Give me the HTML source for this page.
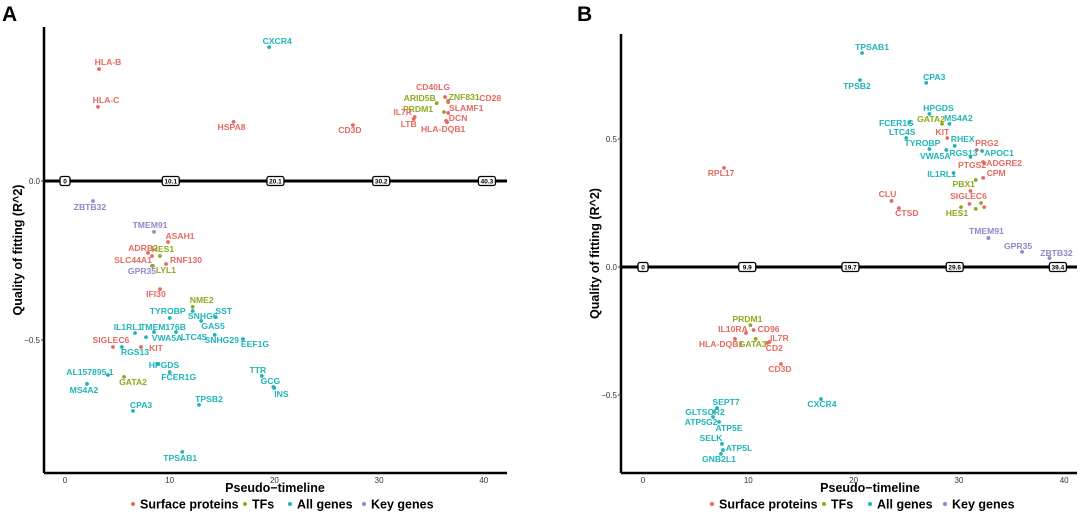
<!DOCTYPE html>
<html><head><meta charset="utf-8"><style>
html,body{margin:0;padding:0;background:#fff;}
svg{display:block;font-family:"Liberation Sans",sans-serif;}
</style></head><body>
<svg id="chart" width="1080" height="513" viewBox="0 0 1080 513"></svg>
<script>
// Panel A data
const aGenes=["CXCR4","HLA-B","HLA-C","HSPA8","CD3D","CD40LG","ZNF831","ARID5B","CD28","PRDM1","SLAMF1","IL7R","LTB","DCN","HLA-DQB1","ZBTB32","TMEM91","ASAH1","ADRB2","HES1","SLC44A1","RNF130","GPR35","LYL1","IFI30","NME2","TYROBP","SNHG6","SST","GAS5","IL1RL1","TMEM176B","VWA5A","LTC4S","SNHG29","EEF1G","SIGLEC6","RGS13","KIT","HPGDS","FCER1G","TTR","GCG","INS","AL157895.1","GATA2","MS4A2","CPA3","TPSB2","TPSAB1"];
const aX=[19.5,3.25,3.15,16.1,27.5,36.3,36.6,35.5,36.6,36.2,36.6,33.4,33.3,36.4,36.5,2.67,8.5,9.84,7.93,9.07,8.31,9.65,8.31,8.4,9.07,12.2,10.0,12.2,14.4,13.0,6.69,8.5,7.74,10.6,14.3,17.0,4.58,5.44,7.26,8.88,10.0,18.8,19.9,20.0,4.1,5.64,2.1,6.5,12.8,11.2];
const aY=[0.421,0.352,0.233,0.186,0.176,0.264,0.252,0.245,0.248,0.217,0.214,0.201,0.195,0.189,0.185,-0.063,-0.160,-0.192,-0.226,-0.236,-0.236,-0.261,-0.267,-0.267,-0.340,-0.396,-0.431,-0.409,-0.428,-0.440,-0.478,-0.475,-0.491,-0.475,-0.484,-0.497,-0.522,-0.522,-0.522,-0.575,-0.601,-0.613,-0.648,-0.651,-0.610,-0.616,-0.638,-0.723,-0.704,-0.852];
const aCat=["a","s","s","s","s","s","t","t","s","t","s","s","s","s","s","k","k","s","s","t","s","s","k","t","s","t","a","a","a","a","a","a","a","a","a","a","s","a","s","a","a","a","a","a","a","t","a","a","a","a"];
const aTicks=["0","10.1","20.1","30.2","40.3"];
const aTickVals=[0,10.1,20.1,30.2,40.3];
const aYTicks=[0,-0.5];
// Panel B data
const bGenes=["TPSAB1","TPSB2","CPA3","HPGDS","GATA2","MS4A2","FCER1G","LTC4S","KIT","TYROBP","RHEX","PRG2","APOC1","VWA5A","RGS13","PTGS2","ADGRE2","IL1RL1","CPM","PBX1","SIGLEC6","HES1","CLU","CTSD","RPL17","TMEM91","GPR35","ZBTB32","","","","","PRDM1","IL10RA","CD96","HLA-DQB1","GATA3","IL7R","CD2","CD3D","CXCR4","SEPT7","GLTSCR2","ATP5G2","ATP5E","SELK","ATP5L","GNB2L1"];
const bX=[20.8,20.6,26.9,27.2,28.4,29.1,25.3,25.0,28.9,27.2,29.6,31.7,32.2,28.8,31.1,32.3,32.4,29.5,32.3,31.6,31.1,30.2,23.6,24.3,7.7,32.8,36.0,38.6,31.0,32.1,31.6,32.4,10.2,9.78,10.5,8.74,10.7,12.0,11.8,13.1,16.9,7.03,6.74,6.65,7.22,7.5,7.6,7.4];
const bY=[0.836,0.730,0.719,0.598,0.559,0.559,0.566,0.504,0.504,0.461,0.473,0.457,0.453,0.457,0.430,0.410,0.406,0.367,0.348,0.340,0.297,0.234,0.258,0.230,0.387,0.113,0.059,0.035,0.246,0.250,0.227,0.234,-0.227,-0.258,-0.246,-0.281,-0.281,-0.293,-0.297,-0.379,-0.516,-0.551,-0.566,-0.586,-0.605,-0.691,-0.715,-0.730];
const bCat=["a","a","a","a","t","a","a","a","s","a","a","s","a","a","a","s","s","a","s","t","s","t","s","s","s","k","k","k","s","t","t","s","t","s","s","s","t","s","s","s","a","a","a","a","a","a","a","a"];
const bTicks=["0","9.9","19.7","29.6","39.4"];
const bTickVals=[0,9.9,19.7,29.6,39.4];
const bYTicks=[0.5,0,-0.5];

// layout (label offsets, px) — not data
const aDX=[8,9,8,-2,-3,-12,16,-17,42,-26,18,-12,-5,12,-4,-3,-4,12,-5,3,-19,20,-10,13,-4,9,-2,10,8,12,-7,9,21,18,7,12,-2,13,15,6,9,-4,-3,7,-18,9,-3,8,10,-2];
const aDY=[-6,-7,-7,5,5,-10,-4,-5,-4,-3,-5,-5,5,-3,7,6,-7,-6,-5,-7,4,-4,5,4,5,-7,-7,5,-6,5,-6,-5,1,5,5,5,-7,5,1,1,5,-6,-6,6,-3,5,6,-6,-6,6];
const bDX=[10,-3,8,9,-11,9,-13,-4,-5,-7,8,10,17,-11,-7,-11,20,-12,13,-12,-2,-4,-4,8,-3,-2,-4,7,0,0,0,0,-3,-13,15,-14,-3,10,7,-1,1,9,-9,-12,10,-11,16,-2];
const bDY=[-6,6,-6,-6,-5,-6,1,-6,-6,-6,-7,-7,2,6,-4,3,0,1,-5,4,5,6,-7,5,5,-7,-6,-5,0,0,0,0,-6,-4,-1,5,5,-4,5,5,5,-6,0,5,6,-6,-2,5];

const COL={s:"#E46A62",t:"#8CAA1E",a:"#1EB5B8",k:"#9585C9"};
const NS="http://www.w3.org/2000/svg";
const svg=document.getElementById("chart");
function mk(tag,attrs,parent,name){const e=document.createElementNS(NS,tag);for(const k in attrs)e.setAttribute(k,attrs[k]);


(parent||svg).appendChild(e);return e;}

function panel(cfg){
  const g=mk("g",{},svg,cfg.id);
  const sx=v=>cfg.x0+v*cfg.kx, sy=v=>cfg.y0-v*cfg.ky;
  mk("text",{x:cfg.letterX,y:21,"font-size":21,"font-weight":"bold"},g,"panel-letter").textContent=cfg.letter;
  mk("line",{x1:cfg.axL,y1:cfg.axT,x2:cfg.axL,y2:cfg.axB,stroke:"#000","stroke-width":2.5},g,"y-axis-line");
  mk("line",{x1:cfg.axL,y1:cfg.axB,x2:cfg.axR,y2:cfg.axB,stroke:"#000","stroke-width":2.5},g,"x-axis-line");
  cfg.yticks.forEach(v=>{const t=mk("text",{x:cfg.axL-4,y:sy(v)+3,"font-size":8,"text-anchor":"end",fill:"#333"},g,"y-tick-label");t.textContent=v.toFixed(1).replace("-","−");
    mk("line",{x1:cfg.axL-3,y1:sy(v),x2:cfg.axL,y2:sy(v),stroke:"#333"},g,"y-tick");});
  [0,10,20,30,40].forEach(v=>{const t=mk("text",{x:sx(v),y:cfg.axB+10,"font-size":8,"text-anchor":"middle",fill:"#333"},g,"x-tick-label");t.textContent=v;});
  mk("text",{x:cfg.xTitleX,y:cfg.axB+19,"font-size":12.5,"font-weight":"bold","text-anchor":"middle"},g,"x-axis-title").textContent="Pseudo−timeline";
  mk("text",{x:0,y:0,"font-size":12.5,"font-weight":"bold","text-anchor":"middle",transform:`translate(${cfg.axL-22},${(cfg.axT+cfg.axB)/2}) rotate(-90)`},g,"y-axis-title").textContent="Quality of fitting (R^2)";
  mk("line",{x1:cfg.axL,y1:sy(0),x2:cfg.axR,y2:sy(0),stroke:"#000","stroke-width":3},g,"pseudo-timeline-line");
  cfg.tickVals.forEach((v,i)=>{const w=cfg.ticks[i].length>1?17:10;
    mk("rect",{x:sx(v)-w/2,y:sy(0)-4.5,width:w,height:9,rx:2,fill:"#fff",stroke:"#000","stroke-width":1.3},g,"timeline-tick-box");
    mk("text",{x:sx(v),y:sy(0)+2.6,"font-size":6.5,"font-weight":"bold","text-anchor":"middle"},g,"timeline-tick-label").textContent=cfg.ticks[i];});
  cfg.genes.forEach((gn,i)=>{const c=COL[cfg.cat[i]];const px=sx(cfg.xs[i]),py=sy(cfg.ys[i]);
    mk("circle",{cx:px,cy:py,r:1.9,fill:c},g,"point-"+(gn||"unlabeled"));
    if(gn){const t=mk("text",{x:px+cfg.dx[i],y:py+cfg.dy[i]+3,"font-size":8.6,"font-weight":"bold","text-anchor":"middle",fill:c},g,"label-"+gn);t.textContent=gn;}
  });
  const L=[["s","Surface proteins"],["t","TFs"],["a","All genes"],["k","Key genes"]];
  cfg.leg.forEach((lx,i)=>{mk("circle",{cx:lx,cy:504,r:2,fill:COL[L[i][0]]},g,"legend-dot");
    mk("text",{x:lx+7,y:508.5,"font-size":12.5,"font-weight":"bold"},g,"legend-entry").textContent=L[i][1];});
}
panel({id:"panel-a",letter:"A",letterX:2,x0:65,kx:10.47,y0:181,ky:318,axL:44,axR:507,axT:27,axB:473,yticks:aYTicks,ticks:aTicks,tickVals:aTickVals,xTitleX:275,
  genes:aGenes,xs:aX,ys:aY,cat:aCat,dx:aDX,dy:aDY,leg:[133,245,290,364]});
panel({id:"panel-b",letter:"B",letterX:577,x0:643,kx:10.53,y0:267,ky:256,axL:621,axR:1077,axT:34,axB:473,yticks:bYTicks,ticks:bTicks,tickVals:bTickVals,xTitleX:870,
  genes:bGenes,xs:bX,ys:bY,cat:bCat,dx:bDX,dy:bDY,leg:[712,824,870,945]});
</script>
</body></html>
